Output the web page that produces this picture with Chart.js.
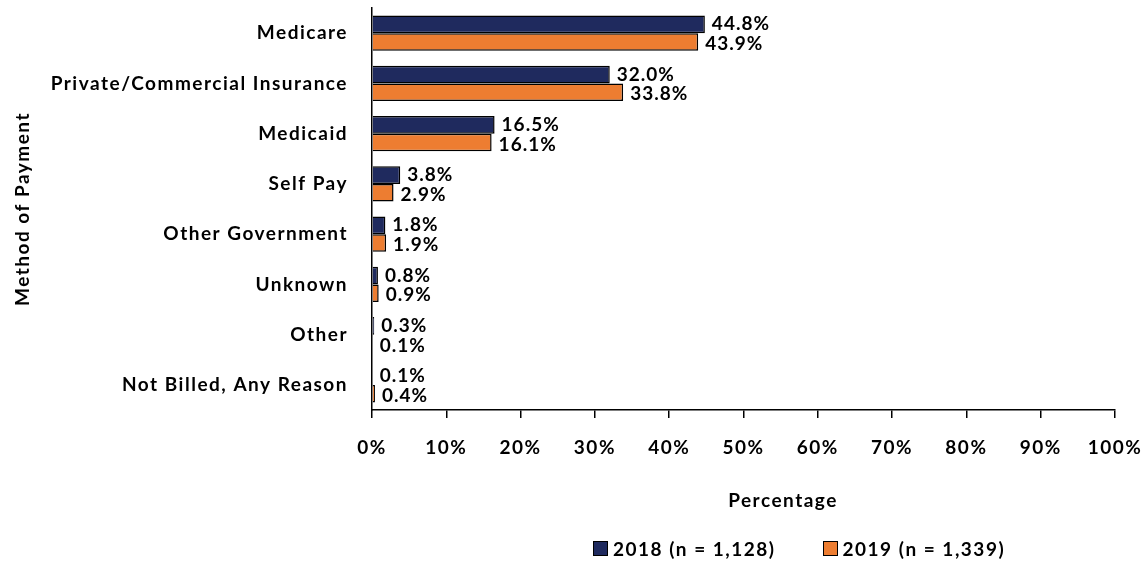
<!DOCTYPE html>
<html>
<head>
<meta charset="utf-8">
<script src="https://cdn.jsdelivr.net/npm/chart.js@4"></script>
<style>
  html, body { margin: 0; padding: 0; background: #fff; }
  #wrap { position: relative; width: 1148px; height: 563px; }
  #xtitle { position: absolute; left: 783px; top: 488px; transform: translateX(-50%);
    font: bold 19px Lato, sans-serif; letter-spacing: 1.5px; color: #000; white-space: nowrap; }
  #legend { position: absolute; left: 593px; top: 537px; display: flex; gap: 47px;
    font: bold 19px Lato, sans-serif; letter-spacing: 1.5px; color: #000; white-space: nowrap; }
  #legend span.item { display: flex; align-items: center; }
  #legend span.box { width: 13px; height: 13px; border: 1px solid #000; margin-right: 5px; display: inline-block; }
</style>
</head>
<body>
<div id="wrap">
  <canvas id="grafico" width="1148" height="563"></canvas>
  <div id="xtitle">Percentage</div>
  <div id="legend"></div>
</div>
<script>
const categorias = ["Medicare", "Private/Commercial Insurance", "Medicaid", "Self Pay",
  "Other Government", "Unknown", "Other", "Not Billed, Any Reason"];
const valores2018 = [44.8, 32.0, 16.5, 3.8, 1.8, 0.8, 0.3, 0.1];
const valores2019 = [43.9, 33.8, 16.1, 2.9, 1.9, 0.9, 0.1, 0.4];
const rotulos = ["2018 (n = 1,128)", "2019 (n = 1,339)"];
const marcasX = [0, 10, 20, 30, 40, 50, 60, 70, 80, 90, 100];

const FONTE = "Lato, sans-serif";
const cores = ["#1f2a5e", "#ed7d31"];

// espaçamento entre letras em todo o texto do canvas
const espacamento = {
  id: "espacamento",
  beforeUpdate(chart) { chart.ctx.letterSpacing = "1.5px"; },
  beforeDraw(chart) { chart.ctx.letterSpacing = "1.5px"; }
};

// rótulos de valor no fim de cada barra
const rotulosBarras = {
  id: "rotulosBarras",
  afterDatasetsDraw(chart) {
    const ctx = chart.ctx;
    ctx.save();
    ctx.letterSpacing = "1px";
    ctx.font = "bold 19px " + FONTE;
    ctx.fillStyle = "#000";
    ctx.textBaseline = "middle";
    ctx.textAlign = "left";
    chart.data.datasets.forEach((ds, i) => {
      chart.getDatasetMeta(i).data.forEach((bar, j) => {
        ctx.fillText(ds.data[j].toFixed(1) + "%", bar.x + 7, bar.y + (i ? 2 : 0));
      });
    });
    ctx.restore();
  }
};

// sem folga automática das escalas: a área do gráfico fica fixa
function semFolga(s) {
  s.paddingTop = 0; s.paddingBottom = 0; s.paddingLeft = 0; s.paddingRight = 0;
}

const legenda = document.getElementById("legend");
legenda.innerHTML = rotulos.map((r, i) =>
  `<span class="item"><span class="box" style="background:${cores[i]}"></span>${r}</span>`).join("");

const ctx = document.getElementById("grafico").getContext("2d");
new Chart(ctx, {
  type: "bar",
  data: {
    labels: categorias,
    datasets: [
      { label: rotulos[0], data: valores2018, backgroundColor: cores[0], borderColor: "#000", borderWidth: 1.5 },
      { label: rotulos[1], data: valores2019, backgroundColor: cores[1], borderColor: "#000", borderWidth: 1.5 }
    ]
  },
  options: {
    indexAxis: "y",
    responsive: false,
    animation: false,
    layout: { autoPadding: false, padding: { top: 8, right: 33, left: 0, bottom: 0 } },
    datasets: { bar: { categoryPercentage: 0.7, barPercentage: 1.0 } },
    plugins: { legend: { display: false }, tooltip: { enabled: false } },
    scales: {
      x: {
        min: 0, max: 100,
        afterBuildTicks: s => { s.ticks = marcasX.map(v => ({ value: v })); },
        afterFit: s => { s.height = 153; semFolga(s); },
        grid: { display: true, drawOnChartArea: false, drawTicks: true, tickLength: 8, color: "#000", lineWidth: 1.5 },
        border: { display: true, color: "#000", width: 1.5 },
        ticks: { color: "#000", padding: 18, maxRotation: 0, font: { family: FONTE, size: 19, weight: "bold" },
          callback: v => v + "%" }
      },
      y: {
        afterFit: s => { s.width = 372; semFolga(s); },
        grid: { display: false },
        border: { display: true, color: "#000", width: 1.5 },
        ticks: { color: "#000", padding: 16, font: { family: FONTE, size: 19, weight: "bold" } },
        title: { display: true, text: "Method of Payment", color: "#000", padding: { top: 11, bottom: 0 },
          font: { family: FONTE, size: 19, weight: "bold" } }
      }
    }
  },
  plugins: [espacamento, rotulosBarras]
});
</script>
</body>
</html>
